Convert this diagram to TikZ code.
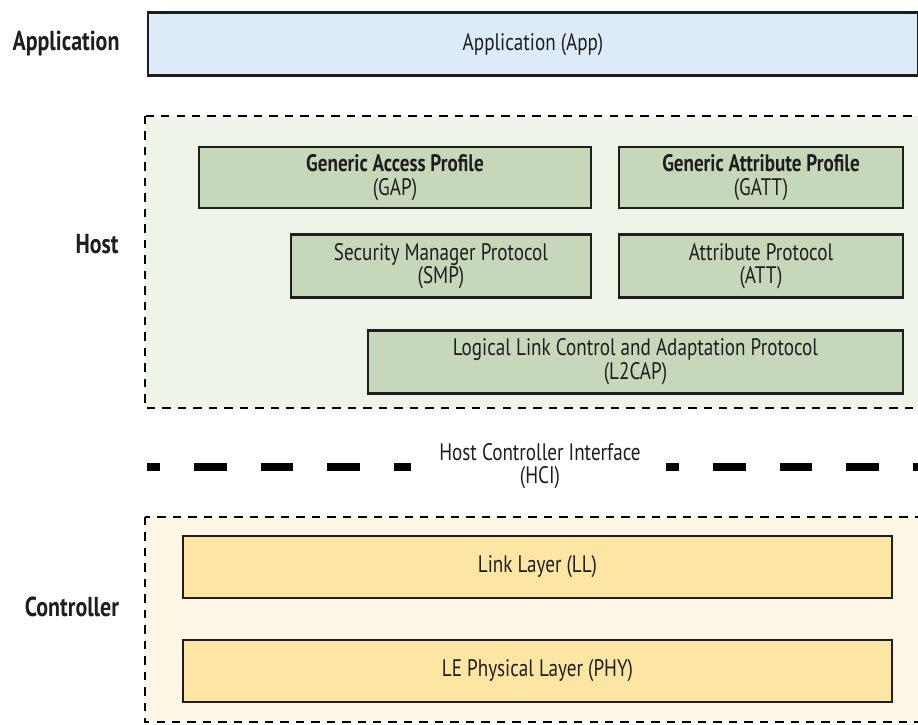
\documentclass[tikz,border=0pt]{standalone}
\usepackage{fontspec}
\setmainfont[FakeStretch=0.8]{PT Sans}
\definecolor{appblue}{RGB}{221,235,248}
\definecolor{hostgreen}{RGB}{238,245,232}
\definecolor{boxgreen}{RGB}{198,215,186}
\definecolor{ctrlcream}{RGB}{254,247,229}
\definecolor{boxyellow}{RGB}{253,229,163}
\definecolor{inkgray}{RGB}{30,30,30}
\tikzset{
  layer/.style={draw=inkgray, line width=2pt, text=inkgray, align=center,
    font=\fontsize{17}{16.5}\selectfont, inner sep=0pt},
  hostbox/.style={layer, fill=boxgreen},
  ctrlbox/.style={layer, fill=boxyellow},
  zone/.style={draw=black, line width=2pt, dash pattern=on 6pt off 5pt},
  side/.style={text=inkgray, font=\fontsize{19.5}{20}\selectfont\bfseries},
  hcidash/.style={black, line width=5.7pt, dash pattern=on 23.4pt off 24.1pt, dash phase=14.2pt}
}
\begin{document}
\begin{tikzpicture}
        \useasboundingbox (0,0) rectangle (22.95,18.1);
        \clip (0,0) rectangle (22.95,18.1);
        % side labels
        \node[side] (applbl) at (1.65,17.0) {Application};
        \node[side] (hostlbl) at (2.425,12.0) {Host};
        \node[side] (ctrllbl) at (1.8,2.925) {Controller};
        % application
        \node[layer, fill=appblue, minimum width=19.25cm, minimum height=1.575cm] (app) at (13.325,16.99) {Application (App)};
        % host
        \draw[zone, fill=hostgreen] (3.625,15.2) rectangle (23.5,7.9);
        \node[hostbox, minimum width=9.8cm, minimum height=1.525cm] (gap) at (9.875,13.66) {\textbf{Generic Access Profile}\\(GAP)};
        \node[hostbox, minimum width=7.1cm, minimum height=1.525cm] (gatt) at (19.025,13.66) {\textbf{Generic Attribute Profile}\\(GATT)};
        \node[hostbox, minimum width=7.5cm, minimum height=1.575cm] (smp) at (11.025,11.44) {Security Manager Protocol\\(SMP)};
        \node[hostbox, minimum width=7.1cm, minimum height=1.575cm] (att) at (19.025,11.44) {Attribute Protocol\\(ATT)};
        \node[hostbox, minimum width=13.375cm, minimum height=1.575cm] (l2cap) at (15.8875,9.06) {Logical Link Control and Adaptation Protocol\\(L2CAP)};
        % hci
        \node[text=inkgray, align=center, font=\fontsize{17}{16.5}\selectfont] (hci) at (13.5,6.45) {Host Controller Interface\\(HCI)};
        \coordinate (hcia) at (3.675,6.425);
        \coordinate (hcib) at (10.275,6.425);
        \coordinate (hcic) at (16.65,6.425);
        \coordinate (hcid) at (23.2,6.425);
        \draw[hcidash] (hcia) -- (hcib);
        \draw[hcidash] (hcic) -- (hcid);
        % controller
        \draw[zone, fill=ctrlcream] (3.625,5.175) rectangle (23.5,0.05);
        \node[ctrlbox, minimum width=17.725cm, minimum height=1.55cm] (ll) at (13.4375,3.925) {Link Layer (LL)};
        \node[ctrlbox, minimum width=17.725cm, minimum height=1.55cm] (phy) at (13.4375,1.325) {LE Physical Layer (PHY)};
\end{tikzpicture}
\end{document}
